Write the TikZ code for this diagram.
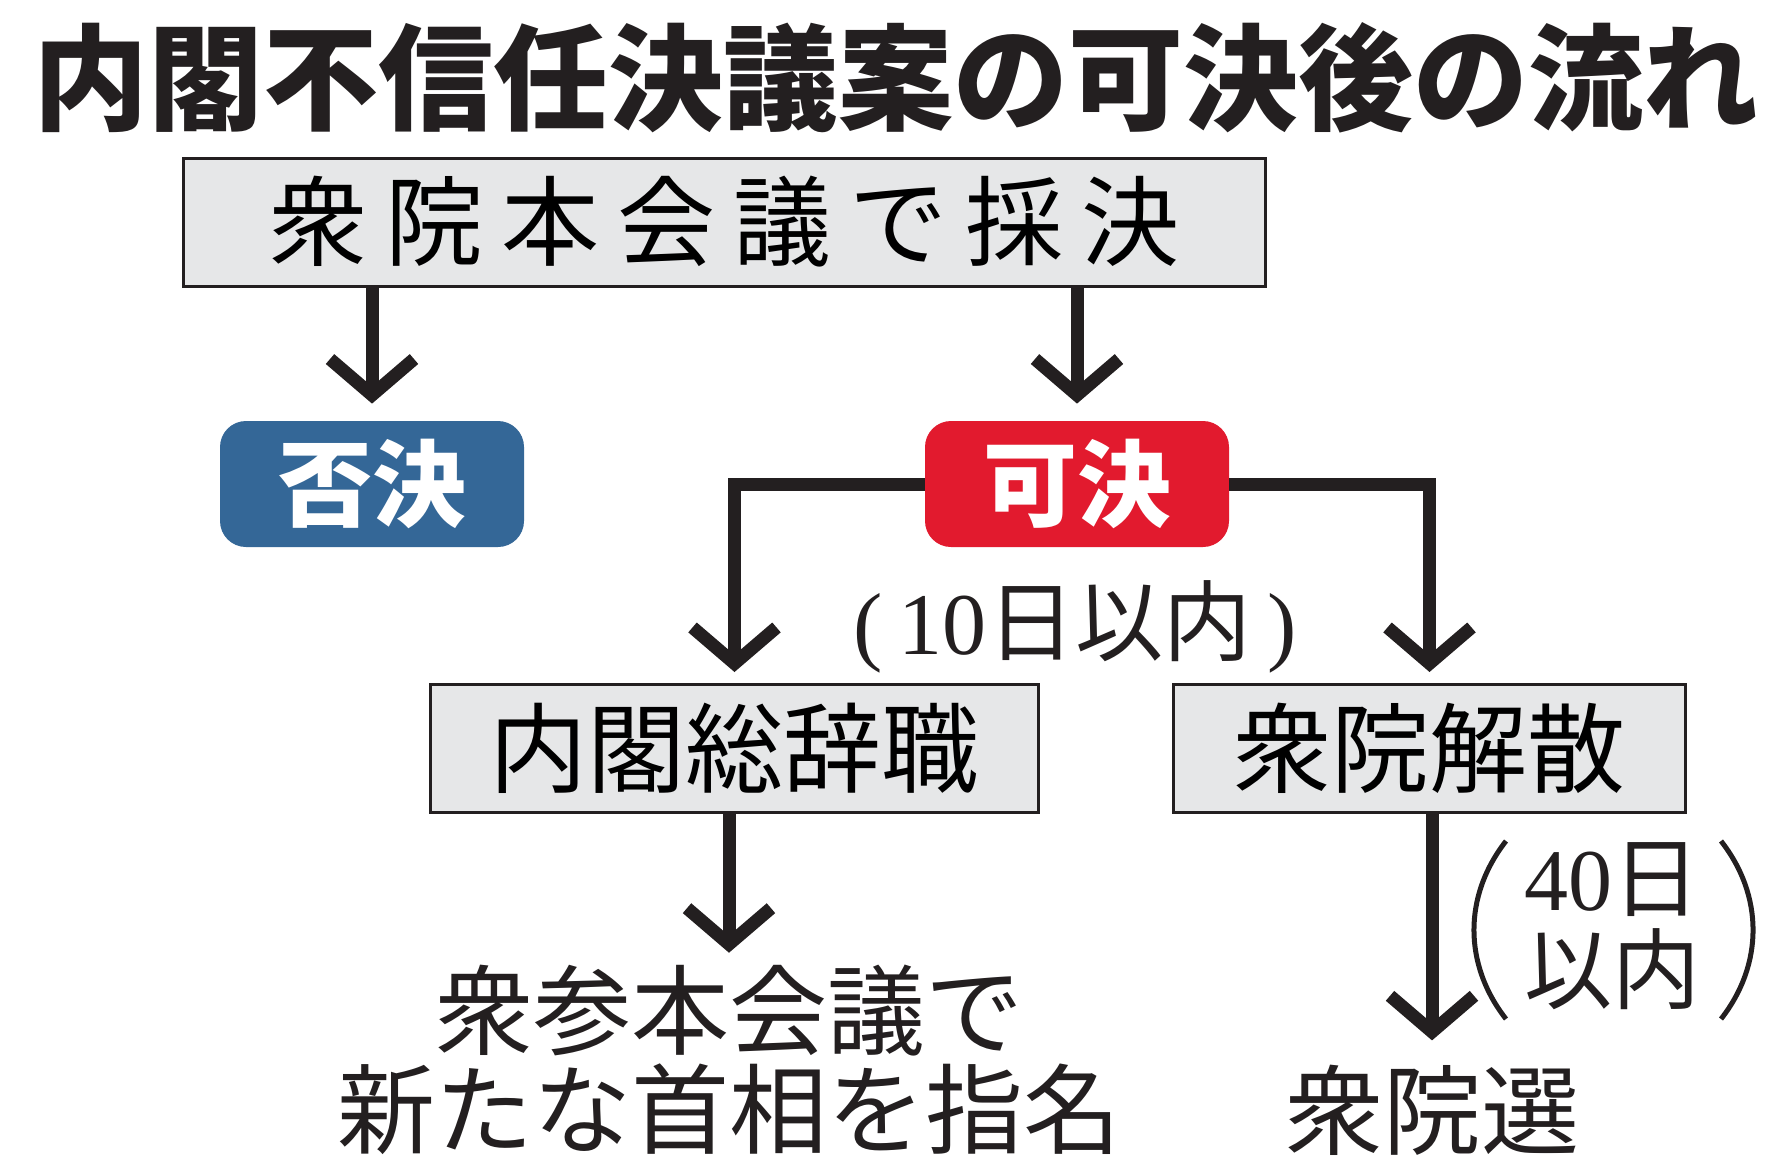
\documentclass[tikz,border=0pt]{standalone}
\usepackage{fontspec}
\setmainfont{Noto Sans CJK JP}
\newfontfamily\serifnum{Liberation Serif}
\usetikzlibrary{arrows.meta}
\definecolor{boxgray}{HTML}{E6E7E8}
\definecolor{rejectblue}{HTML}{346797}
\definecolor{passred}{HTML}{E21A2E}
\definecolor{inkblack}{HTML}{231F20}
\tikzset{
  stepbox/.style={draw=inkblack, fill=boxgray, line width=1.5pt, inner sep=0pt,
    minimum height=64pt, font=\fontsize{49}{52}\selectfont},
  result/.style={rounded corners=13pt, text=white, inner sep=0pt,
    minimum width=152pt, minimum height=63pt, font=\fontsize{47}{50}\selectfont\bfseries},
  plain/.style={inner sep=0pt, text=inkblack, font=\fontsize{49}{49.5}\selectfont},
  days/.style={inner sep=0pt, text=inkblack, font=\fontsize{44}{46}\selectfont},
  paren/.style={draw=inkblack, line width=2.5pt},
  flow/.style={draw=inkblack, line width=6.5pt,
    -{Straight Barb[length=18pt,width=42pt,line width=6.5pt,sharp]}},
}
\begin{document}
\begin{tikzpicture}[x=0.5pt,y=-0.5pt]
   \useasboundingbox (0,0) rectangle (1777,1162);
   % title and first step
   \node[text=inkblack] (title) at (896,78) {\fontsize{57.5}{60}\selectfont\bfseries 内閣不信任決議案の可決後の流れ};
   \node[stepbox, minimum width=541pt] (vote) at (724.5,222)
      {衆\kern9pt 院\kern9pt 本\kern9pt 会\kern9pt 議\kern9pt で\kern9pt 採\kern9pt 決};
   % results
   \node[result, fill=rejectblue] (reject) at (372,484) {否決};
   \node[result, fill=passred] (pass) at (1077,484) {可決};
   % after passing
   \node[stepbox, minimum width=304pt] (resign) at (734.5,748.5) {内閣総辞職};
   \node[stepbox, minimum width=256pt] (dissolve) at (1429.5,748.5) {衆院解散};
   \node[days] (days10) at (1075,627) {{\serifnum(}\kern8pt{\serifnum 10}日以内\kern8pt{\serifnum)}};
   \node[plain, align=center] (nextpm) at (729,1060) {衆参本会議で\\新たな首相を指名};
   \node[plain] (election) at (1432,1110) {衆院選};
   \node[days, align=center] (days40) at (1612,926) {{\serifnum 40}日\\以内};
   % parentheses round the 40 days
   \coordinate (lp top) at (1506,841);
   \coordinate (lp bot) at (1506,1019);
   \coordinate (rp top) at (1721,841);
   \coordinate (rp bot) at (1721,1019);
   \draw[paren] (lp top) to[bend right=38] (lp bot);
   \draw[paren] (rp top) to[bend left=38] (rp bot);
   % arrows
   \draw[flow] (vote.south -| reject) -- ([yshift=8.5pt]reject.north);
   \draw[flow] (vote.south -| pass) -- ([yshift=8.5pt]pass.north);
   \draw[flow] (pass.west) -| ([yshift=5.5pt]resign.north);
   \draw[flow] (pass.east) -| ([yshift=5.5pt]dissolve.north);
   \draw[flow] (resign.south -| nextpm.north) -- ([yshift=6pt]nextpm.north);
   \draw[flow] (dissolve.south -| election.north) -- ([yshift=12pt]election.north);
\end{tikzpicture}
\end{document}
